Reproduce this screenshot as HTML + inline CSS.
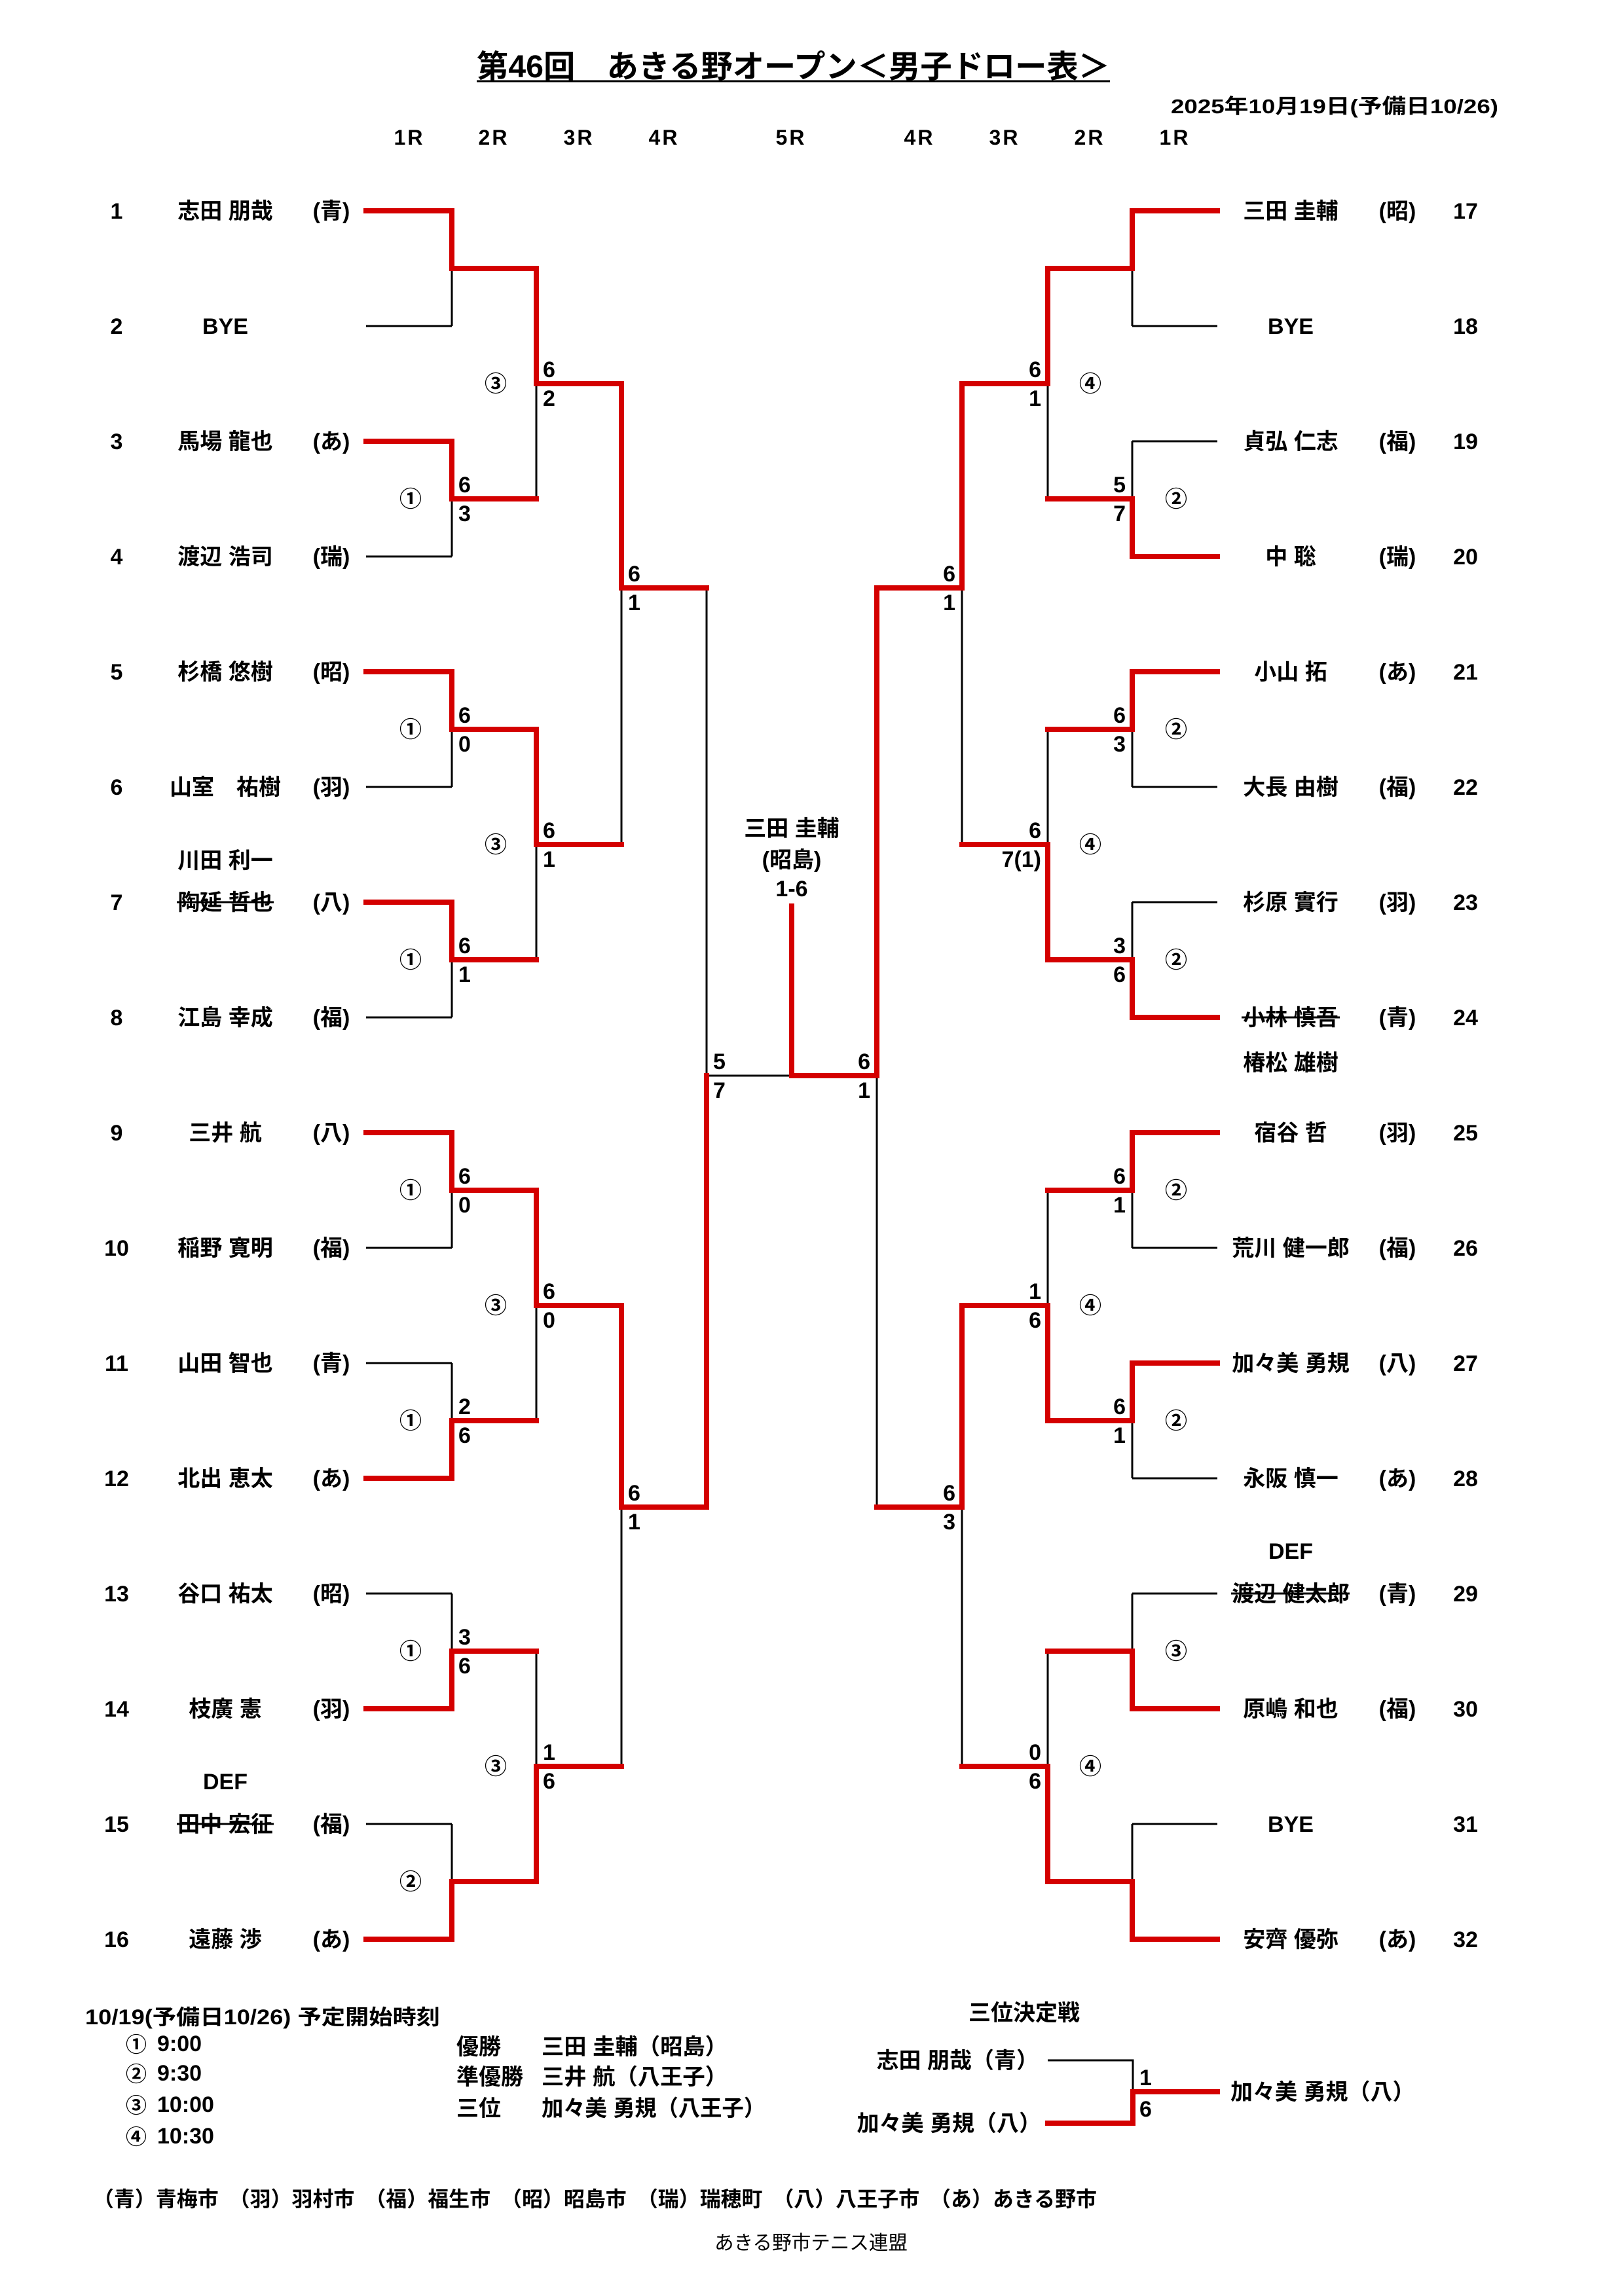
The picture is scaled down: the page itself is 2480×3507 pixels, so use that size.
<!DOCTYPE html>
<html><head><meta charset="utf-8">
<style>
html,body{margin:0;padding:0;background:#fff;}
svg{display:block;}
text{font-family:"Liberation Sans","Noto Sans CJK JP",sans-serif;fill:#000;}
.b{font-weight:bold;}
.nm{font-size:34px;font-weight:bold;text-anchor:middle;}
.sc{font-size:34px;font-weight:bold;}
.ci{font-size:34px;text-anchor:middle;font-weight:bold;}
.rd{stroke:#d40000;stroke-width:8;stroke-linecap:square;fill:none;}
.bk{stroke:#000;stroke-width:3;fill:none;}
</style></head><body>
<svg width="2480" height="3507" viewBox="0 0 2480 3507" xmlns="http://www.w3.org/2000/svg">
<rect width="2480" height="3507" fill="#fff"/>
<!-- Title -->
<text x="728" y="118" class="b" font-size="48" textLength="967" lengthAdjust="spacingAndGlyphs">第46回　あきる野オープン＜男子ドロー表＞</text>
<line x1="728" y1="124" x2="1695" y2="124" stroke="#000" stroke-width="3"/>
<text x="1788" y="173" class="b" font-size="31" textLength="500" lengthAdjust="spacingAndGlyphs">2025年10月19日(予備日10/26)</text>
<!-- Round headers -->
<g class="b" font-size="32" text-anchor="middle" letter-spacing="3">
<text x="625" y="221">1R</text><text x="754" y="221">2R</text><text x="884" y="221">3R</text><text x="1014" y="221">4R</text><text x="1208" y="221">5R</text>
<text x="1404" y="221">4R</text><text x="1534" y="221">3R</text><text x="1664" y="221">2R</text><text x="1794" y="221">1R</text>
</g>

<!-- BLACK LINES -->
<g class="bk">
<line x1="559" y1="498" x2="690" y2="498"/><line x1="559" y1="850" x2="690" y2="850"/>
<line x1="559" y1="1202" x2="690" y2="1202"/><line x1="559" y1="1554" x2="690" y2="1554"/>
<line x1="559" y1="1906" x2="690" y2="1906"/><line x1="559" y1="2082" x2="690" y2="2082"/>
<line x1="559" y1="2434" x2="690" y2="2434"/><line x1="559" y1="2786" x2="690" y2="2786"/>
<line x1="690" y1="410" x2="690" y2="498"/><line x1="690" y1="762" x2="690" y2="850"/>
<line x1="690" y1="1114" x2="690" y2="1202"/><line x1="690" y1="1466" x2="690" y2="1554"/>
<line x1="690" y1="1818" x2="690" y2="1906"/><line x1="690" y1="2082" x2="690" y2="2170"/>
<line x1="690" y1="2434" x2="690" y2="2522"/><line x1="690" y1="2786" x2="690" y2="2874"/>
<line x1="819" y1="586" x2="819" y2="762"/><line x1="819" y1="1290" x2="819" y2="1466"/>
<line x1="819" y1="1994" x2="819" y2="2170"/><line x1="819" y1="2522" x2="819" y2="2698"/>
<line x1="949" y1="898" x2="949" y2="1290"/><line x1="949" y1="2302" x2="949" y2="2698"/>
<line x1="1079" y1="898" x2="1079" y2="1643"/>
<line x1="1079" y1="1643" x2="1209" y2="1643"/>
<line x1="1339" y1="1643" x2="1339" y2="2302"/>
<line x1="1469" y1="898" x2="1469" y2="1290"/><line x1="1469" y1="2302" x2="1469" y2="2698"/>
<line x1="1600" y1="586" x2="1600" y2="762"/><line x1="1600" y1="1114" x2="1600" y2="1290"/>
<line x1="1600" y1="1818" x2="1600" y2="1994"/><line x1="1600" y1="2522" x2="1600" y2="2698"/>
<line x1="1729" y1="410" x2="1729" y2="498"/><line x1="1729" y1="674" x2="1729" y2="762"/>
<line x1="1729" y1="1114" x2="1729" y2="1202"/><line x1="1729" y1="1378" x2="1729" y2="1466"/>
<line x1="1729" y1="1818" x2="1729" y2="1906"/><line x1="1729" y1="2170" x2="1729" y2="2258"/>
<line x1="1729" y1="2434" x2="1729" y2="2522"/><line x1="1729" y1="2786" x2="1729" y2="2874"/>
<line x1="1729" y1="498" x2="1859" y2="498"/><line x1="1729" y1="674" x2="1859" y2="674"/>
<line x1="1729" y1="1202" x2="1859" y2="1202"/><line x1="1729" y1="1378" x2="1859" y2="1378"/>
<line x1="1729" y1="1906" x2="1859" y2="1906"/><line x1="1729" y1="2258" x2="1859" y2="2258"/>
<line x1="1729" y1="2434" x2="1859" y2="2434"/><line x1="1729" y1="2786" x2="1859" y2="2786"/>
<polyline points="1600,3147 1730,3147 1730,3195"/>
</g>

<!-- RED LINES -->
<g class="rd">
<polyline points="559,322 690,322 690,410 819,410 819,586 949,586 949,898 1079,898"/>
<polyline points="559,674 690,674 690,762 819,762"/>
<polyline points="559,1026 690,1026 690,1114 819,1114 819,1290 949,1290"/>
<polyline points="559,1378 690,1378 690,1466 819,1466"/>
<polyline points="559,1730 690,1730 690,1818 819,1818 819,1994 949,1994 949,2302 1079,2302 1079,1643"/>
<polyline points="559,2258 690,2258 690,2170 819,2170"/>
<polyline points="559,2610 690,2610 690,2522 819,2522"/>
<polyline points="559,2962 690,2962 690,2874 819,2874 819,2698 949,2698"/>
<polyline points="1209,1384 1209,1643 1339,1643"/>
<polyline points="1859,322 1729,322 1729,410 1600,410 1600,586 1469,586 1469,898 1339,898 1339,1643"/>
<polyline points="1859,850 1729,850 1729,762 1600,762"/>
<polyline points="1859,1026 1729,1026 1729,1114 1600,1114"/>
<polyline points="1859,1554 1729,1554 1729,1466 1600,1466 1600,1290 1469,1290"/>
<polyline points="1859,1730 1729,1730 1729,1818 1600,1818"/>
<polyline points="1859,2082 1729,2082 1729,2170 1600,2170 1600,1994 1469,1994 1469,2302 1339,2302"/>
<polyline points="1859,2610 1729,2610 1729,2522 1600,2522"/>
<polyline points="1859,2962 1729,2962 1729,2874 1600,2874 1600,2698 1469,2698"/>
<polyline points="1600,3243 1730,3243 1730,3195 1859,3195"/>
</g>

<!-- LEFT PLAYERS -->
<g class="nm">
<text x="178" y="334">1</text><text x="344" y="334">志田 朋哉</text><text x="506" y="334">(青)</text>
<text x="178" y="510">2</text><text x="344" y="510">BYE</text>
<text x="178" y="686">3</text><text x="344" y="686">馬場 龍也</text><text x="506" y="686">(あ)</text>
<text x="178" y="862">4</text><text x="344" y="862">渡辺 浩司</text><text x="506" y="862">(瑞)</text>
<text x="178" y="1038">5</text><text x="344" y="1038">杉橋 悠樹</text><text x="506" y="1038">(昭)</text>
<text x="178" y="1214">6</text><text x="344" y="1214">山室　祐樹</text><text x="506" y="1214">(羽)</text>
<text x="344" y="1326">川田 利一</text>
<text x="178" y="1390">7</text><text x="344" y="1390">陶延 哲也</text><text x="506" y="1390">(八)</text>
<text x="178" y="1566">8</text><text x="344" y="1566">江島 幸成</text><text x="506" y="1566">(福)</text>
<text x="178" y="1742">9</text><text x="344" y="1742">三井 航</text><text x="506" y="1742">(八)</text>
<text x="178" y="1918">10</text><text x="344" y="1918">稲野 寛明</text><text x="506" y="1918">(福)</text>
<text x="178" y="2094">11</text><text x="344" y="2094">山田 智也</text><text x="506" y="2094">(青)</text>
<text x="178" y="2270">12</text><text x="344" y="2270">北出 恵太</text><text x="506" y="2270">(あ)</text>
<text x="178" y="2446">13</text><text x="344" y="2446">谷口 祐太</text><text x="506" y="2446">(昭)</text>
<text x="178" y="2622">14</text><text x="344" y="2622">枝廣 憲</text><text x="506" y="2622">(羽)</text>
<text x="344" y="2733">DEF</text>
<text x="178" y="2798">15</text><text x="344" y="2798">田中 宏征</text><text x="506" y="2798">(福)</text>
<text x="178" y="2974">16</text><text x="344" y="2974">遠藤 渉</text><text x="506" y="2974">(あ)</text>
</g>
<g stroke="#000" stroke-width="3">
<line x1="270" y1="1378" x2="418" y2="1378"/>
<line x1="270" y1="2786" x2="418" y2="2786"/>
<line x1="1896" y1="1554" x2="2046" y2="1554"/>
<line x1="1880" y1="2434" x2="2061" y2="2434"/>
</g>

<!-- RIGHT PLAYERS -->
<g class="nm">
<text x="1971" y="334">三田 圭輔</text><text x="2134" y="334">(昭)</text><text x="2238" y="334">17</text>
<text x="1971" y="510">BYE</text><text x="2238" y="510">18</text>
<text x="1971" y="686">貞弘 仁志</text><text x="2134" y="686">(福)</text><text x="2238" y="686">19</text>
<text x="1971" y="862">中 聡</text><text x="2134" y="862">(瑞)</text><text x="2238" y="862">20</text>
<text x="1971" y="1038">小山 拓</text><text x="2134" y="1038">(あ)</text><text x="2238" y="1038">21</text>
<text x="1971" y="1214">大長 由樹</text><text x="2134" y="1214">(福)</text><text x="2238" y="1214">22</text>
<text x="1971" y="1390">杉原 實行</text><text x="2134" y="1390">(羽)</text><text x="2238" y="1390">23</text>
<text x="1971" y="1566">小林 慎吾</text><text x="2134" y="1566">(青)</text><text x="2238" y="1566">24</text>
<text x="1971" y="1635">椿松 雄樹</text>
<text x="1971" y="1742">宿谷 哲</text><text x="2134" y="1742">(羽)</text><text x="2238" y="1742">25</text>
<text x="1971" y="1918">荒川 健一郎</text><text x="2134" y="1918">(福)</text><text x="2238" y="1918">26</text>
<text x="1971" y="2094">加々美 勇規</text><text x="2134" y="2094">(八)</text><text x="2238" y="2094">27</text>
<text x="1971" y="2270">永阪 慎一</text><text x="2134" y="2270">(あ)</text><text x="2238" y="2270">28</text>
<text x="1971" y="2381">DEF</text>
<text x="1971" y="2446">渡辺 健太郎</text><text x="2134" y="2446">(青)</text><text x="2238" y="2446">29</text>
<text x="1971" y="2622">原嶋 和也</text><text x="2134" y="2622">(福)</text><text x="2238" y="2622">30</text>
<text x="1971" y="2798">BYE</text><text x="2238" y="2798">31</text>
<text x="1971" y="2974">安齊 優弥</text><text x="2134" y="2974">(あ)</text><text x="2238" y="2974">32</text>
<text x="1209" y="1277">三田 圭輔</text>
<text x="1209" y="1325">(昭島)</text>
<text x="1209" y="1369">1-6</text>
</g>

<!-- LEFT SCORES -->
<g class="sc">
<text x="700" y="752">6</text><text x="700" y="796">3</text>
<text x="700" y="1104">6</text><text x="700" y="1148">0</text>
<text x="700" y="1456">6</text><text x="700" y="1500">1</text>
<text x="700" y="1808">6</text><text x="700" y="1852">0</text>
<text x="700" y="2160">2</text><text x="700" y="2204">6</text>
<text x="700" y="2512">3</text><text x="700" y="2556">6</text>
<text x="829" y="576">6</text><text x="829" y="620">2</text>
<text x="829" y="1280">6</text><text x="829" y="1324">1</text>
<text x="829" y="1984">6</text><text x="829" y="2028">0</text>
<text x="829" y="2688">1</text><text x="829" y="2732">6</text>
<text x="959" y="888">6</text><text x="959" y="932">1</text>
<text x="959" y="2292">6</text><text x="959" y="2336">1</text>
<text x="1089" y="1633">5</text><text x="1089" y="1677">7</text>
</g>
<!-- RIGHT SCORES -->
<g class="sc" text-anchor="end">
<text x="1719" y="752">5</text><text x="1719" y="796">7</text>
<text x="1719" y="1104">6</text><text x="1719" y="1148">3</text>
<text x="1719" y="1456">3</text><text x="1719" y="1500">6</text>
<text x="1719" y="1808">6</text><text x="1719" y="1852">1</text>
<text x="1719" y="2160">6</text><text x="1719" y="2204">1</text>
<text x="1590" y="576">6</text><text x="1590" y="620">1</text>
<text x="1590" y="1280">6</text><text x="1590" y="1324">7(1)</text>
<text x="1590" y="1984">1</text><text x="1590" y="2028">6</text>
<text x="1590" y="2688">0</text><text x="1590" y="2732">6</text>
<text x="1459" y="888">6</text><text x="1459" y="932">1</text>
<text x="1459" y="2292">6</text><text x="1459" y="2336">3</text>
<text x="1329" y="1633">6</text><text x="1329" y="1677">1</text>
</g>

<!-- CIRCLES -->
<g class="ci">
<text x="627" y="774">①</text><text x="627" y="1126">①</text><text x="627" y="1478">①</text>
<text x="627" y="1830">①</text><text x="627" y="2182">①</text><text x="627" y="2534">①</text><text x="627" y="2886">②</text>
<text x="757" y="598">③</text><text x="757" y="1302">③</text><text x="757" y="2006">③</text><text x="757" y="2710">③</text>
<text x="1796" y="774">②</text><text x="1796" y="1126">②</text><text x="1796" y="1478">②</text>
<text x="1796" y="1830">②</text><text x="1796" y="2182">②</text><text x="1796" y="2534">③</text>
<text x="1665" y="598">④</text><text x="1665" y="1302">④</text><text x="1665" y="2006">④</text><text x="1665" y="2710">④</text>
</g>

<!-- FOOTER LEFT -->
<text x="130" y="3092" class="b" font-size="32" textLength="542" lengthAdjust="spacingAndGlyphs">10/19(予備日10/26) 予定開始時刻</text>
<g font-size="32" text-anchor="middle" font-weight="bold"><text x="208" y="3134">①</text><text x="208" y="3179">②</text><text x="208" y="3227">③</text><text x="208" y="3275">④</text></g>
<g class="b" font-size="34">
<text x="240" y="3133">9:00</text><text x="240" y="3178">9:30</text><text x="240" y="3226">10:00</text><text x="240" y="3274">10:30</text>
<text x="697" y="3138">優勝</text><text x="697" y="3184">準優勝</text><text x="697" y="3232">三位</text>
<text x="827" y="3138" textLength="284" lengthAdjust="spacingAndGlyphs">三田 圭輔（昭島）</text>
<text x="827" y="3184" textLength="284" lengthAdjust="spacingAndGlyphs">三井 航（八王子）</text>
<text x="827" y="3232" textLength="342" lengthAdjust="spacingAndGlyphs">加々美 勇規（八王子）</text>
</g>
<!-- THIRD PLACE -->
<g class="b" font-size="34">
<text x="1564" y="3086" text-anchor="middle">三位決定戦</text>
<text x="1586" y="3159" text-anchor="end">志田 朋哉（青）</text>
<text x="1590" y="3255" text-anchor="end">加々美 勇規（八）</text>
<text x="1879" y="3207">加々美 勇規（八）</text>
<text x="1740" y="3185">1</text>
<text x="1740" y="3233">6</text>
</g>
<!-- LEGEND -->
<text x="142" y="3370" class="b" font-size="32" textLength="1533" lengthAdjust="spacingAndGlyphs">（青）青梅市　（羽）羽村市　（福）福生市　（昭）昭島市　（瑞）瑞穂町　（八）八王子市　（あ）あきる野市</text>
<text x="1091" y="3436" font-size="30" textLength="295" lengthAdjust="spacingAndGlyphs">あきる野市テニス連盟</text>
</svg>
</body></html>
